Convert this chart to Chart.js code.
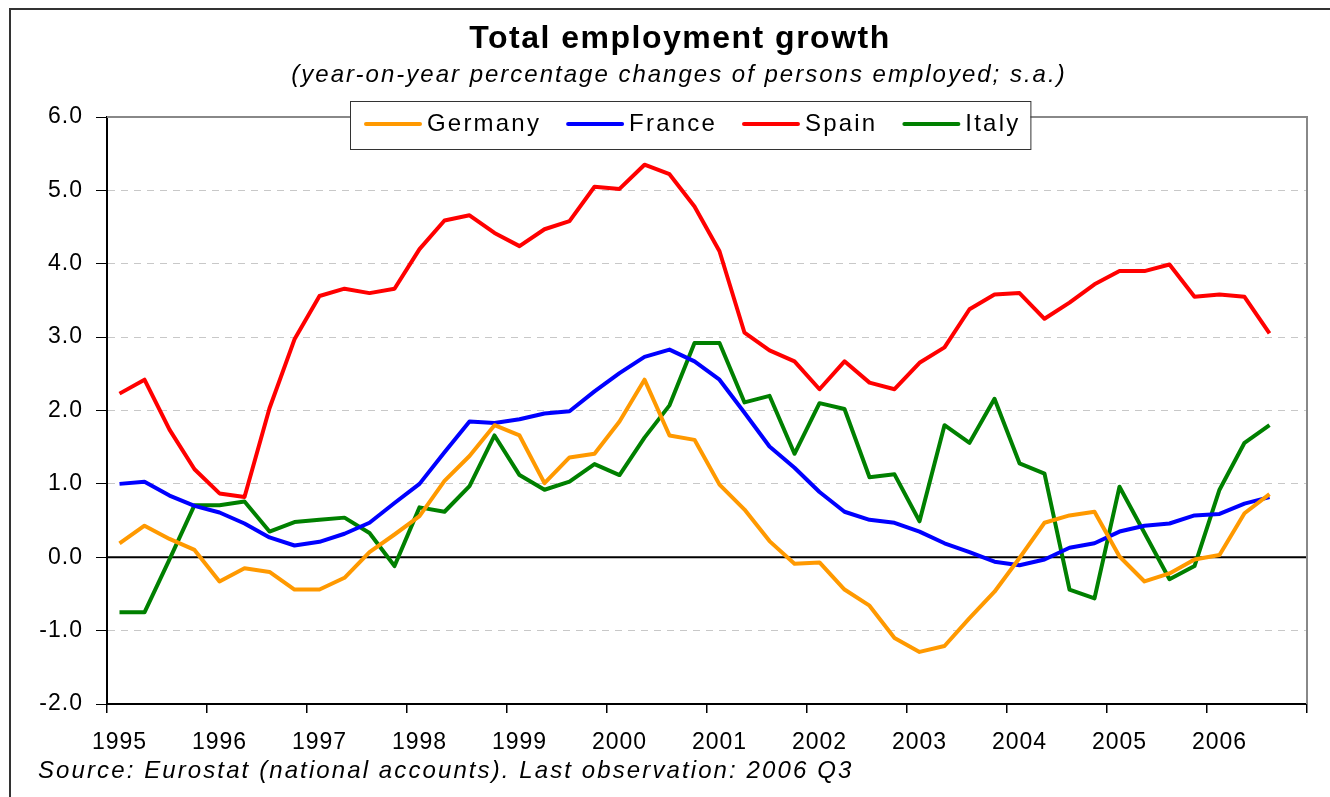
<!DOCTYPE html>
<html>
<head>
<meta charset="utf-8">
<title>Total employment growth</title>
<script src="https://cdn.jsdelivr.net/npm/chart.js@4.4.1/dist/chart.umd.min.js"></script>
<style>
body { margin: 0; background: #fff; }
canvas { display: block; }
</style>
</head>
<body>
<canvas id="employment" width="1330" height="797"></canvas>
<script>
// year labels shown under the axis, one category per quarter
var years = ['1995', '1996', '1997', '1998', '1999', '2000', '2001', '2002', '2003', '2004', '2005', '2006'];
var quarters = [];
for (var i = 0; i < years.length; i++) {
    for (var q = 1; q <= 4; q++) {
        quarters.push(years[i] + ' Q' + q);
    }
}

// year-on-year % changes, 1995 Q1 .. 2006 Q3
var germany = [0.19, 0.43, 0.25, 0.10, -0.33, -0.15, -0.20, -0.44, -0.44, -0.28, 0.07, 0.31, 0.56, 1.04, 1.38, 1.80, 1.66,
    1.01, 1.36, 1.41, 1.85, 2.42, 1.66, 1.60, 0.99, 0.65, 0.22, -0.09, -0.07, -0.44, -0.66, -1.10, -1.29,
    -1.21, -0.83, -0.47, -0.01, 0.47, 0.57, 0.62, 0.01, -0.33, -0.22, -0.03, 0.03, 0.60, 0.86];
var france = [1.00, 1.03, 0.84, 0.70, 0.61, 0.46, 0.27, 0.16, 0.21, 0.32, 0.47, 0.74, 1.00, 1.43, 1.85, 1.83, 1.88,
    1.96, 1.99, 2.26, 2.51, 2.73, 2.83, 2.67, 2.42, 1.97, 1.51, 1.22, 0.89, 0.62, 0.51, 0.47, 0.35,
    0.19, 0.07, -0.06, -0.11, -0.03, 0.13, 0.19, 0.35, 0.43, 0.46, 0.57, 0.59, 0.73, 0.82];
var spain = [2.23, 2.42, 1.74, 1.20, 0.87, 0.82, 2.03, 2.97, 3.56, 3.66, 3.60, 3.66, 4.20, 4.59, 4.66, 4.42, 4.24,
    4.47, 4.58, 5.05, 5.02, 5.35, 5.22, 4.78, 4.17, 3.06, 2.82, 2.67, 2.29, 2.67, 2.38, 2.29, 2.65,
    2.86, 3.38, 3.58, 3.60, 3.25, 3.47, 3.72, 3.90, 3.90, 3.99, 3.55, 3.58, 3.55, 3.05];
var italy = [-0.75, -0.75, -0.03, 0.71, 0.71, 0.76, 0.35, 0.48, 0.51, 0.54, 0.33, -0.12, 0.68, 0.62, 0.97, 1.66, 1.12,
    0.92, 1.03, 1.27, 1.12, 1.63, 2.07, 2.92, 2.92, 2.11, 2.20, 1.41, 2.10, 2.02, 1.09, 1.13, 0.49,
    1.80, 1.56, 2.16, 1.28, 1.14, -0.44, -0.56, 0.96, 0.33, -0.30, -0.12, 0.92, 1.56, 1.80];

var seriesNames = ['Germany', 'France', 'Spain', 'Italy'];
var seriesColours = ['#FF9900', '#0000FF', '#FF0000', '#008000'];

var titleText = 'Total employment growth';
var subtitleText = '(year-on-year percentage changes of persons employed; s.a.)';
var sourceText = 'Source: Eurostat (national accounts). Last observation: 2006 Q3';

var fontName = '"Liberation Sans", Arial, sans-serif';

// titles, frame, zero line and the boxed legend that sits on the plot border
var decorations = {
    id: 'decorations',
    beforeDraw: function(chart) {
        chart.ctx.letterSpacing = '1px';
    },
    beforeDatasetsDraw: function(chart) {
        var ctx = chart.ctx;
        var area = chart.chartArea;
        var y0 = chart.scales.y.getPixelForValue(0);
        ctx.save();
        ctx.strokeStyle = '#000';
        ctx.lineWidth = 2;
        ctx.beginPath();
        ctx.moveTo(area.left, y0);
        ctx.lineTo(area.right, y0);
        ctx.stroke();

        ctx.strokeStyle = '#888';
        ctx.beginPath();
        ctx.moveTo(area.left, area.top);
        ctx.lineTo(area.right, area.top);
        ctx.lineTo(area.right, area.bottom);
        ctx.stroke();
        ctx.restore();
    },
    afterDraw: function(chart) {
        var ctx = chart.ctx;
        ctx.save();

        // outer frame
        ctx.strokeStyle = '#333';
        ctx.lineWidth = 2;
        ctx.beginPath();
        ctx.moveTo(10, 797);
        ctx.lineTo(10, 9);
        ctx.lineTo(1330, 9);
        ctx.stroke();

        ctx.fillStyle = '#000';
        ctx.textAlign = 'center';
        ctx.textBaseline = 'middle';
        ctx.letterSpacing = '1.5px';
        ctx.font = 'bold 32px ' + fontName;
        ctx.fillText(titleText, 680, 39);
        ctx.letterSpacing = '2px';
        ctx.font = 'italic 24px ' + fontName;
        ctx.fillText(subtitleText, 679, 75);

        ctx.textAlign = 'left';
        ctx.letterSpacing = '2.1px';
        ctx.fillText(sourceText, 38, 771);

        // legend
        ctx.letterSpacing = '2.2px';
        ctx.font = '24px ' + fontName;
        var x = 366;
        var ly = 124;
        var items = [];
        chart.data.datasets.forEach(function(ds) {
            var w = ctx.measureText(ds.label).width;
            items.push({ x: x, w: w, ds: ds });
            x += 61 + w + 27;
        });
        var last = items[items.length - 1];
        var boxRight = last.x + 61 + last.w + 10;
        ctx.fillStyle = '#fff';
        ctx.fillRect(350, 101, boxRight - 350, 48);
        ctx.strokeStyle = '#333';
        ctx.lineWidth = 1;
        ctx.strokeRect(350.5, 101.5, boxRight - 350, 48);
        items.forEach(function(it) {
            ctx.strokeStyle = it.ds.borderColor;
            ctx.lineWidth = 4;
            ctx.lineCap = 'round';
            ctx.beginPath();
            ctx.moveTo(it.x, ly);
            ctx.lineTo(it.x + 54, ly);
            ctx.stroke();
            ctx.fillStyle = '#000';
            ctx.fillText(it.ds.label, it.x + 61, ly);
        });
        ctx.restore();
    }
};

var seriesData = [germany, france, spain, italy];
var datasets = [];
for (var s = 0; s < seriesNames.length; s++) {
    datasets.push({
        label: seriesNames[s],
        data: seriesData[s],
        borderColor: seriesColours[s],
        backgroundColor: seriesColours[s],
        borderWidth: 4,
        pointRadius: 0,
        tension: 0,
        borderJoinStyle: 'round',
        fill: false
    });
}

var ctx = document.getElementById('employment').getContext('2d');
var myChart = new Chart(ctx, {
    type: 'line',
    data: {
        labels: quarters,
        datasets: datasets
    },
    options: {
        responsive: false,
        animation: false,
        layout: {
            padding: { top: 117, right: 23, bottom: 0, left: 0 }
        },
        plugins: {
            legend: { display: false },
            title: { display: false },
            tooltip: { enabled: false }
        },
        scales: {
            x: {
                offset: true,
                afterFit: function(scale) { scale.height = 93; },
                grid: {
                    offset: true,
                    drawOnChartArea: false,
                    tickLength: 9,
                    lineWidth: 1.5,
                    color: function(c) {
                        return (c.index === undefined || c.index % 4 === 0) ? '#000' : 'rgba(0,0,0,0)';
                    }
                },
                border: { color: '#000', width: 2 },
                ticks: {
                    autoSkip: false,
                    maxRotation: 0,
                    padding: 16,
                    color: '#000',
                    font: { family: fontName, size: 23 },
                    callback: function(value, index) {
                        return index % 4 === 0 ? years[index / 4] : '';
                    }
                }
            },
            y: {
                min: -2,
                max: 6,
                afterFit: function(scale) { scale.width = 107; },
                grid: {
                    tickLength: 11,
                    tickColor: '#000',
                    color: function(c) {
                        var v = c.tick ? c.tick.value : null;
                        return (v === 0 || v === 6 || v === -2) ? 'rgba(0,0,0,0)' : '#c8c8c8';
                    }
                },
                border: { color: '#000', width: 2, dash: [7, 6] },
                ticks: {
                    stepSize: 1,
                    padding: 13,
                    color: '#000',
                    font: { family: fontName, size: 23 },
                    callback: function(value) { return value.toFixed(1); }
                }
            }
        }
    },
    plugins: [decorations]
});
</script>
</body>
</html>
